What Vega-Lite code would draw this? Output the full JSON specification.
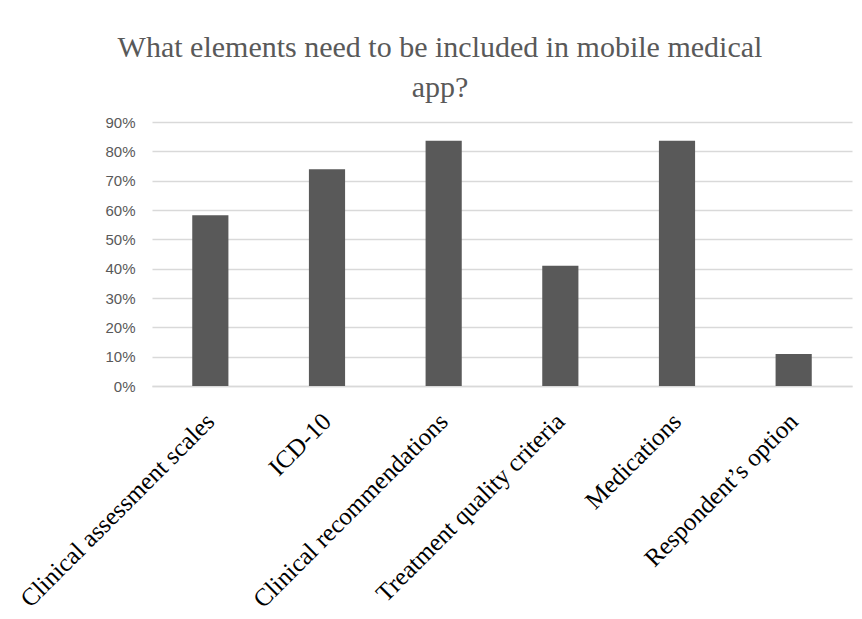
{
  "$schema": "https://vega.github.io/schema/vega-lite/v6.json",
  "width": 700,
  "height": 264,
  "autosize": {"type": "none"},
  "padding": {"left": 152, "top": 122, "right": 10, "bottom": 233},
  "background": "white",
  "title": {
    "text": ["What elements need to be included in mobile medical", "app?"],
    "font": "Liberation Serif",
    "fontSize": 30,
    "fontWeight": "normal",
    "color": "#595959",
    "anchor": "middle",
    "frame": "group",
    "lineHeight": 40,
    "dx": -62,
    "offset": 12
  },
  "data": {
    "values": [
      {"element": "Clinical assessment scales", "share": 0.582},
      {"element": "ICD-10", "share": 0.739},
      {"element": "Clinical recommendations", "share": 0.836},
      {"element": "Treatment quality criteria", "share": 0.41},
      {"element": "Medications", "share": 0.836},
      {"element": "Respondent’s option", "share": 0.109}
    ]
  },
  "mark": {"type": "bar", "color": "#595959"},
  "encoding": {
    "x": {
      "field": "element",
      "type": "nominal",
      "sort": null,
      "title": null,
      "scale": {"paddingInner": 0.69, "paddingOuter": 0.345},
      "axis": {
        "labelAngle": -45,
        "labelAlign": "right",
        "labelBaseline": "middle",
        "labelFont": "Liberation Serif",
        "labelFontSize": 25,
        "labelColor": "#000000",
        "labelPadding": 31,
        "labelLimit": 400,
        "ticks": false,
        "domain": true,
        "domainColor": "#d9d9d9",
        "domainWidth": 1.5,
        "grid": false
      }
    },
    "y": {
      "field": "share",
      "type": "quantitative",
      "title": null,
      "scale": {"domain": [0, 0.9], "nice": false},
      "axis": {
        "values": [0, 0.1, 0.2, 0.3, 0.4, 0.5, 0.6, 0.7, 0.8, 0.9],
        "format": ".0%",
        "labelFont": "Liberation Sans",
        "labelFontSize": 15,
        "labelColor": "#595959",
        "labelPadding": 17,
        "ticks": false,
        "domain": false,
        "grid": true,
        "gridColor": "#d9d9d9",
        "gridWidth": 1.5
      }
    }
  },
  "config": {"view": {"stroke": null}}
}
